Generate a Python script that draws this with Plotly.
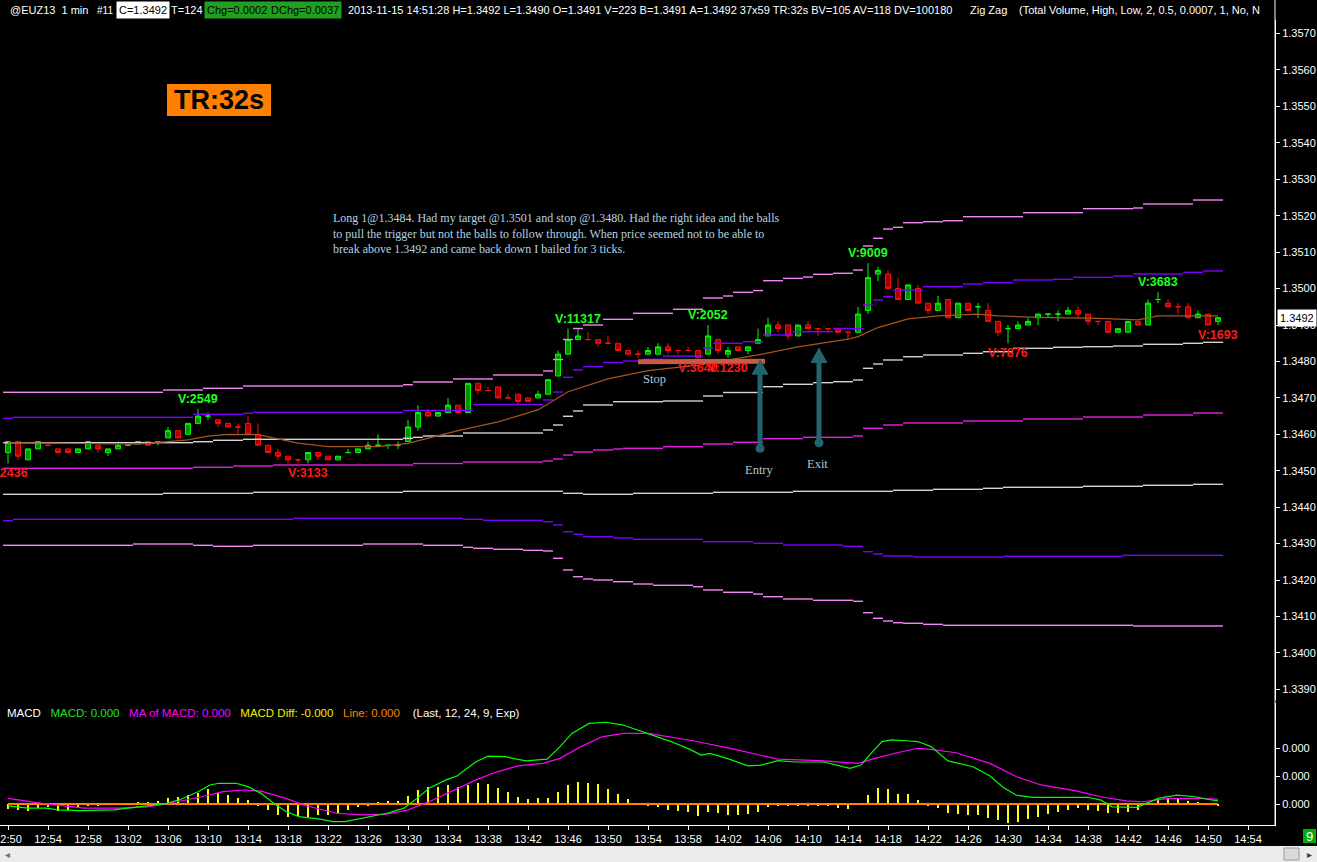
import plotly.graph_objects as go

W, H = 1317, 862
PW = 1275  # right price axis sits at 1275 px

def px(x):
    return x / PW

def py(y):
    return (H - y) / H

SANS = "Liberation Sans, Arial, sans-serif"
SERIF = "Liberation Serif, Times New Roman, serif"

# ---------------- data ----------------
# bar index = minutes after 12:50 (one-minute bars 12:50 .. 14:51)
tick_labels = ["12:50", "12:54", "12:58", "13:02", "13:06", "13:10", "13:14", "13:18",
               "13:22", "13:26", "13:30", "13:34", "13:38", "13:42", "13:46", "13:50",
               "13:54", "13:58", "14:02", "14:06", "14:10", "14:14", "14:18", "14:22",
               "14:26", "14:30", "14:34", "14:38", "14:42", "14:46", "14:50", "14:54"]
tick_minutes = [0, 4, 8, 12, 16, 20, 24, 28, 32, 36, 40, 44, 48, 52, 56, 60,
                64, 68, 72, 76, 80, 84, 88, 92, 96, 100, 104, 108, 112, 116, 120, 124]

price_ticks = [1.3390, 1.3400, 1.3410, 1.3420, 1.3430, 1.3440, 1.3450, 1.3460, 1.3470,
               1.3480, 1.3490, 1.3500, 1.3510, 1.3520, 1.3530, 1.3540, 1.3550, 1.3560, 1.3570]

opens = [1.3455, 1.3458, 1.3453, 1.3456, 1.3457, 1.3456, 1.3456, 1.3455, 1.3456, 1.3457,
         1.3455, 1.3456, 1.3457, 1.3458, 1.3458, 1.3458, 1.3459, 1.3461, 1.3460, 1.3463,
         1.3465, 1.3464, 1.3463, 1.3462, 1.3463, 1.3460, 1.3457, 1.3455, 1.3454, 1.3453,
         1.3453, 1.3455, 1.3454, 1.3453, 1.3455, 1.3455, 1.3456, 1.3457, 1.3457, 1.3457,
         1.3458, 1.3462, 1.3466, 1.3465, 1.3466, 1.3468, 1.3466, 1.3474, 1.3472, 1.3473,
         1.3470, 1.3471, 1.3470, 1.3470, 1.3471, 1.3476, 1.3482, 1.3486, 1.3486, 1.3486,
         1.3485, 1.3485, 1.3483, 1.3482, 1.3482, 1.3482, 1.3484, 1.3483, 1.3483, 1.3483,
         1.3482, 1.3486, 1.3482, 1.3484, 1.3483, 1.3485, 1.3487, 1.3490, 1.3490, 1.3487,
         1.3490, 1.3489, 1.3489, 1.3489, 1.3488, 1.3488, 1.3494, 1.3504, 1.3504, 1.3500,
         1.3497, 1.3500, 1.3496, 1.3494, 1.3497, 1.3492, 1.3496, 1.3495, 1.3494, 1.3491,
         1.3489, 1.3489, 1.3490, 1.3492, 1.3493, 1.3493, 1.3493, 1.3494, 1.3493, 1.3491,
         1.3491, 1.3488, 1.3488, 1.3491, 1.3490, 1.3497, 1.3496, 1.3495, 1.3495, 1.3492,
         1.3493, 1.3491]
highs = [1.3458, 1.3458, 1.3456, 1.3458, 1.3457, 1.3456, 1.3456, 1.3456, 1.3458, 1.3457,
         1.3456, 1.3458, 1.3457, 1.3458, 1.3458, 1.3458, 1.3462, 1.3461, 1.3463, 1.3467,
         1.3466, 1.3464, 1.3463, 1.3463, 1.3465, 1.3463, 1.3457, 1.3456, 1.3454, 1.3453,
         1.3455, 1.3455, 1.3454, 1.3454, 1.3456, 1.3456, 1.3458, 1.3460, 1.3457, 1.3458,
         1.3464, 1.3468, 1.3467, 1.3466, 1.3470, 1.3468, 1.3474, 1.3474, 1.3473, 1.3473,
         1.3471, 1.3471, 1.3470, 1.3472, 1.3475, 1.3483, 1.3489, 1.3489, 1.3488, 1.3486,
         1.3487, 1.3485, 1.3483, 1.3483, 1.3484, 1.3485, 1.3485, 1.3483, 1.3484, 1.3483,
         1.3490, 1.3486, 1.3484, 1.3484, 1.3484, 1.3489, 1.3492, 1.3491, 1.3490, 1.3490,
         1.3491, 1.3489, 1.3489, 1.3489, 1.3488, 1.3495, 1.3507, 1.3506, 1.3505, 1.3503,
         1.3501, 1.3501, 1.3496, 1.3498, 1.3497, 1.3496, 1.3496, 1.3496, 1.3496, 1.3491,
         1.3490, 1.3491, 1.3492, 1.3493, 1.3493, 1.3494, 1.3495, 1.3495, 1.3493, 1.3491,
         1.3491, 1.3489, 1.3491, 1.3491, 1.3497, 1.3499, 1.3497, 1.3496, 1.3496, 1.3494,
         1.3493, 1.3492]
lows = [1.3452, 1.3453, 1.3453, 1.3456, 1.3457, 1.3455, 1.3455, 1.3455, 1.3456, 1.3455,
        1.3454, 1.3456, 1.3457, 1.3458, 1.3457, 1.3457, 1.3459, 1.3459, 1.3460, 1.3463,
        1.3464, 1.3462, 1.3462, 1.3460, 1.3460, 1.3457, 1.3455, 1.3453, 1.3452, 1.3452,
        1.3452, 1.3453, 1.3453, 1.3453, 1.3455, 1.3455, 1.3456, 1.3457, 1.3456, 1.3456,
        1.3458, 1.3461, 1.3465, 1.3465, 1.3466, 1.3466, 1.3466, 1.3471, 1.3472, 1.3470,
        1.3470, 1.3468, 1.3469, 1.3470, 1.3471, 1.3476, 1.3482, 1.3486, 1.3486, 1.3484,
        1.3485, 1.3483, 1.3482, 1.3481, 1.3482, 1.3482, 1.3482, 1.3482, 1.3483, 1.3481,
        1.3482, 1.3482, 1.3481, 1.3483, 1.3482, 1.3485, 1.3487, 1.3488, 1.3486, 1.3487,
        1.3489, 1.3487, 1.3488, 1.3488, 1.3486, 1.3488, 1.3493, 1.3502, 1.3500, 1.3497,
        1.3497, 1.3496, 1.3493, 1.3494, 1.3492, 1.3492, 1.3494, 1.3492, 1.3491, 1.3487,
        1.3485, 1.3489, 1.3490, 1.3490, 1.3492, 1.3491, 1.3493, 1.3492, 1.3490, 1.3490,
        1.3488, 1.3488, 1.3488, 1.3490, 1.3490, 1.3496, 1.3495, 1.3493, 1.3492, 1.3492,
        1.3490, 1.3490]
closes = [1.3458, 1.3454, 1.3456, 1.3458, 1.3457, 1.3455, 1.3455, 1.3456, 1.3458, 1.3456,
          1.3456, 1.3457, 1.3457, 1.3458, 1.3457, 1.3458, 1.3461, 1.3459, 1.3463, 1.3465,
          1.3465, 1.3463, 1.3462, 1.3462, 1.3460, 1.3457, 1.3455, 1.3454, 1.3453, 1.3453,
          1.3455, 1.3454, 1.3453, 1.3454, 1.3455, 1.3456, 1.3457, 1.3457, 1.3457, 1.3457,
          1.3462, 1.3466, 1.3465, 1.3466, 1.3468, 1.3466, 1.3474, 1.3472, 1.3472, 1.3470,
          1.3470, 1.3469, 1.3469, 1.3471, 1.3475, 1.3482, 1.3486, 1.3487, 1.3486, 1.3485,
          1.3485, 1.3483, 1.3482, 1.3482, 1.3483, 1.3484, 1.3483, 1.3483, 1.3483, 1.3481,
          1.3487, 1.3483, 1.3483, 1.3483, 1.3484, 1.3486, 1.3490, 1.3489, 1.3487, 1.3490,
          1.3489, 1.3489, 1.3489, 1.3488, 1.3488, 1.3493, 1.3503, 1.3505, 1.3500, 1.3497,
          1.3501, 1.3496, 1.3494, 1.3496, 1.3492, 1.3496, 1.3494, 1.3495, 1.3491, 1.3488,
          1.3489, 1.3490, 1.3491, 1.3493, 1.3493, 1.3493, 1.3494, 1.3493, 1.3491, 1.3491,
          1.3488, 1.3489, 1.3491, 1.3490, 1.3496, 1.3497, 1.3495, 1.3495, 1.3492, 1.3493,
          1.3490, 1.3492]
# unchanged (open == close) bars that the chart paints green
doji_green = [12, 13, 15, 20, 34, 37, 38, 39, 97, 100, 104, 105, 115]

# stepped deviation bands: (first bar of step, value)
band_u3 = [(0, 1.347153), (16, 1.347216), (20, 1.347263), (24, 1.347326), (40, 1.347362),
           (41, 1.347436), (45, 1.347519), (49, 1.347628), (54, 1.347738), (55, 1.348053),
           (56, 1.348602), (57, 1.348904), (58, 1.349000), (60, 1.349156), (63, 1.349321),
           (67, 1.349431), (70, 1.349741), (72, 1.349796), (73, 1.349897), (75, 1.349944),
           (76, 1.350216), (78, 1.350279), (80, 1.350317), (81, 1.350391), (83, 1.350419),
           (85, 1.350509), (86, 1.351168), (87, 1.351379), (88, 1.351634), (89, 1.351681),
           (90, 1.351807), (92, 1.351835), (94, 1.351862), (96, 1.351972), (102, 1.352082),
           (108, 1.352192), (113, 1.352211), (114, 1.352321), (119, 1.352430)]
band_u2 = [(0, 1.346440), (1, 1.346467), (19, 1.346549), (24, 1.346577), (25, 1.346604),
           (40, 1.346654), (47, 1.346819), (54, 1.346942), (55, 1.347161), (56, 1.347565),
           (57, 1.347765), (58, 1.347856), (60, 1.347971), (62, 1.348012), (64, 1.348059),
           (66, 1.348149), (70, 1.348369), (71, 1.348498), (74, 1.348542), (76, 1.348726),
           (79, 1.348816), (83, 1.348904), (86, 1.349549), (87, 1.349686), (88, 1.349777),
           (89, 1.349960), (92, 1.350051), (96, 1.350125), (98, 1.350161), (101, 1.350235),
           (105, 1.350254), (107, 1.350309), (111, 1.350345), (113, 1.350400), (118, 1.350446),
           (120, 1.350482)]
band_u1 = [(0, 1.345770), (19, 1.345797), (21, 1.345836), (24, 1.345863), (40, 1.345891),
           (41, 1.345918), (42, 1.345954), (46, 1.346036), (54, 1.346119), (55, 1.346256),
           (56, 1.346495), (57, 1.346640), (58, 1.346805), (61, 1.346895), (66, 1.346914),
           (70, 1.347052), (72, 1.347148), (76, 1.347307), (78, 1.347373), (81, 1.347417),
           (83, 1.347444), (85, 1.347491), (86, 1.347812), (87, 1.347930), (88, 1.348040),
           (90, 1.348130), (92, 1.348177), (96, 1.348223), (98, 1.348267), (101, 1.348360),
           (105, 1.348388), (108, 1.348405), (111, 1.348424), (114, 1.348470), (118, 1.348498),
           (120, 1.348525)]
band_c = [(0, 1.345067), (19, 1.345095), (23, 1.345131), (27, 1.345158), (41, 1.345199),
          (46, 1.345240), (54, 1.345268), (55, 1.345323), (56, 1.345432), (57, 1.345515),
          (59, 1.345570), (61, 1.345597), (62, 1.345616), (66, 1.345660), (70, 1.345734),
          (73, 1.345781), (76, 1.345880), (80, 1.345918), (85, 1.345954), (86, 1.346165),
          (88, 1.346256), (90, 1.346311), (96, 1.346366), (102, 1.346420), (108, 1.346475),
          (114, 1.346530), (119, 1.346585)]
band_l1 = [(0, 1.344354), (16, 1.344381), (25, 1.344409), (40, 1.344436), (56, 1.344381),
           (58, 1.344354), (63, 1.344381), (71, 1.344409), (79, 1.344436), (89, 1.344464),
           (93, 1.344491), (98, 1.344519), (100, 1.344546), (108, 1.344574), (114, 1.344601),
           (119, 1.344628)]
band_l2 = [(0, 1.343630), (1, 1.343668), (29, 1.343695), (46, 1.343668), (48, 1.343640),
           (54, 1.343602), (55, 1.343512), (56, 1.343328), (57, 1.343257), (58, 1.343190),
           (61, 1.343155), (63, 1.343119), (70, 1.343053), (75, 1.343009), (78, 1.342963),
           (84, 1.342927), (86, 1.342779), (87, 1.342716), (88, 1.342661), (91, 1.342633),
           (100, 1.342653), (112, 1.342680)]
band_l3 = [(0, 1.342954), (13, 1.342990), (19, 1.342954), (21, 1.342927), (25, 1.342954),
           (36, 1.342990), (42, 1.342954), (46, 1.342899), (47, 1.342872), (49, 1.342845),
           (52, 1.342817), (54, 1.342798), (55, 1.342598), (56, 1.342277), (57, 1.342093),
           (58, 1.342030), (59, 1.342002), (61, 1.341955), (63, 1.341892), (65, 1.341857),
           (69, 1.341818), (70, 1.341728), (72, 1.341665), (75, 1.341618), (76, 1.341544),
           (78, 1.341481), (81, 1.341445), (85, 1.341418), (86, 1.341105), (87, 1.340951),
           (88, 1.340877), (89, 1.340830), (90, 1.340814), (92, 1.340786), (94, 1.340759),
           (113, 1.340740)]

# moving average (brown) sampled along the chart
ma_bar = [0, 13, 16, 18, 20, 22, 25, 27, 29, 32, 37, 40, 42, 45, 49, 53, 56, 60, 64, 69,
          75, 79, 84, 85, 87, 90, 93, 97, 99, 103, 109, 113, 115, 121]
ma_val = [1.34577, 1.34573, 1.34580, 1.34585, 1.34595, 1.34600, 1.34599, 1.34588, 1.34576,
          1.34566, 1.34566, 1.34575, 1.34589, 1.34610, 1.34634, 1.34667, 1.34717, 1.34752,
          1.34775, 1.34790, 1.34818, 1.34840, 1.34861, 1.34868, 1.34893, 1.34917, 1.34925,
          1.34930, 1.34925, 1.34921, 1.34918, 1.34914, 1.34925, 1.34925]

# zig zag swing labels
piv_bar = [0, 19, 30, 57, 69, 70, 72, 86, 100, 115, 121]
piv_kind = ["L", "H", "L", "H", "L", "H", "L", "H", "L", "H", "L"]
piv_vol = [2436, 2549, 3133, 11317, 3640, 2052, 1230, 9009, 7876, 3683, 1693]

# MACD panel (values in units of 0.0001)
macd_bar = [0, 2, 3.8, 5, 7.2, 10.6, 13, 15.6, 17.3, 19, 20.2, 21.1, 22.8, 24, 25.3, 26.6,
            27.8, 29.1, 31.2, 32.5, 33.7, 35.4, 37.9, 39.6, 40.9, 42.1, 43.8, 44.9, 45.9,
            46.8, 48, 49.7, 51.8, 53.9, 55.2, 56.4, 58.1, 59.8, 61.5, 64, 66.3, 68.2, 69.3,
            70.2, 71.9, 74, 75.3, 77, 78.7, 81.6, 82.9, 84.2, 85.3, 86.3, 87.4, 88.4, 90.1,
            91, 92.3, 94, 96.5, 98.2, 99.5, 100.8, 102.5, 106.7, 108, 109.3, 110.4, 112.9,
            113.8, 115, 116.9, 118.7, 119.9, 121]
macd_val = [-0.07, -0.15, -0.15, -0.21, -0.24, -0.21, -0.10, 0.0, 0.17, 0.44, 0.68, 0.74,
            0.74, 0.62, 0.38, 0.02, -0.27, -0.45, -0.54, -0.63, -0.63, -0.51, -0.33, -0.15,
            0.20, 0.56, 0.86, 1.0, 1.27, 1.51, 1.71, 1.69, 1.54, 1.60, 2.05, 2.52, 2.88,
            2.92, 2.82, 2.52, 2.23, 1.95, 1.75, 1.81, 1.63, 1.36, 1.39, 1.55, 1.5, 1.5, 1.39,
            1.27, 1.39, 1.81, 2.23, 2.29, 2.25, 2.23, 2.05, 1.54, 1.33, 1.0, 0.6, 0.32, 0.24,
            0.26, 0.24, 0.14, -0.1, -0.12, 0.02, 0.2, 0.32, 0.26, 0.17, 0.11]
sig_bar = [0, 3.4, 7.6, 11, 13.9, 16.9, 19.4, 21.5, 23.6, 25.3, 27.8, 29.9, 32.9, 35.4,
           37.9, 40, 42.1, 44.7, 46.8, 48.9, 51, 53.5, 55.2, 57.3, 59.4, 61.5, 64, 68.5,
           72.7, 77, 81.2, 85, 86.7, 88.9, 91, 92.3, 94.8, 98.2, 100.8, 103.3, 106.7, 109.3,
           111.8, 113.5, 116.1, 119.5, 121]
sig_val = [0.2, 0.02, -0.15, -0.15, -0.1, 0.08, 0.26, 0.44, 0.5, 0.46, 0.2, -0.07, -0.33,
           -0.39, -0.36, -0.21, 0.08, 0.5, 0.86, 1.15, 1.36, 1.45, 1.63, 2.05, 2.4, 2.52,
           2.52, 2.26, 1.95, 1.6, 1.55, 1.45, 1.63, 1.83, 1.99, 1.95, 1.83, 1.45, 0.98, 0.68,
           0.48, 0.26, 0.11, 0.08, 0.2, 0.2, 0.17]
macd_diff = [-0.18, -0.2, -0.26, -0.14, -0.1, -0.24, -0.2, -0.14, -0.06, -0.04,
             -0.02, 0, 0.02, 0.08, 0.05, 0.11, 0.2, 0.24, 0.32, 0.4,
             0.52, 0.4, 0.32, 0.2, 0.13, -0.08, -0.2, -0.39, -0.48, -0.43,
             -0.45, -0.39, -0.39, -0.31, -0.2, -0.1, -0.06, 0.05, 0.12, 0.12,
             0.29, 0.5, 0.6, 0.62, 0.68, 0.6, 0.68, 0.76, 0.71, 0.56,
             0.44, 0.26, 0.17, 0.2, 0.23, 0.44, 0.68, 0.8, 0.76, 0.71,
             0.52, 0.36, 0.18, 0, -0.08, -0.1, -0.2, -0.26, -0.3, -0.43,
             -0.3, -0.33, -0.39, -0.39, -0.37, -0.3, -0.1, -0.06, -0.08, -0.04,
             -0.06, -0.04, -0.06, -0.14, -0.18, -0.02, 0.32, 0.57, 0.54, 0.36,
             0.35, 0.14, -0.06, -0.15, -0.33, -0.36, -0.39, -0.39, -0.51, -0.57,
             -0.69, -0.63, -0.55, -0.45, -0.37, -0.27, -0.21, -0.15, -0.21, -0.24,
             -0.31, -0.33, -0.27, -0.21, 0.08, 0.17, 0.18, 0.18, 0.12, 0.08,
             -0.02, -0.06]
macd_line_level = 0.0
MACD_UNIT = 1e-4

# trade annotations
stop_price = 1.3480
stop_from_bar, stop_to_bar = 63.0, 75.7
entry_bar, entry_base, entry_tip = 75.2, 1.345616, 1.348040
exit_bar, exit_base, exit_tip = 81.1, 1.345770, 1.348361
last_price = 1.3492

# ---------------- figure ----------------
n = len(opens)
bars = list(range(n))
fig = go.Figure()


def expand(steps):
    out, j = [], 0
    for k in range(n):
        while j + 1 < len(steps) and steps[j + 1][0] <= k:
            j += 1
        out.append(steps[j][1])
    return out


def step_segments(steps):
    vals = expand(steps)
    xs, ys = [], []
    for k, v in zip(bars, vals):
        xs += [k - 0.5, k + 0.5, None]
        ys += [v, v, None]
    return xs, ys


PINK = "#f585f5"
PURPLE = "#7f00ff"
WHITE_BAND = "#d4d4d4"
MAGENTA = "#e61ee6"
for steps, col in [(band_u3, PINK), (band_u2, PURPLE), (band_u1, WHITE_BAND),
                   (band_c, MAGENTA), (band_l1, WHITE_BAND), (band_l2, PURPLE),
                   (band_l3, PINK)]:
    xs, ys = step_segments(steps)
    fig.add_trace(go.Scatter(x=xs, y=ys, mode="lines", line=dict(color=col, width=1.4),
                             hoverinfo="skip", connectgaps=False))

fig.add_trace(go.Scatter(x=ma_bar, y=ma_val, mode="lines",
                         line=dict(color="#a5561e", width=1.2), hoverinfo="skip"))

up_idx = [k for k in bars if closes[k] > opens[k] or (closes[k] == opens[k] and k in doji_green)]
dn_idx = [k for k in bars if k not in up_idx]

for idx, line_c, fill_c in [(up_idx, "#00ff00", "#009000"), (dn_idx, "#ff1010", "#a80000")]:
    fig.add_trace(go.Candlestick(
        x=idx,
        open=[opens[k] for k in idx], high=[highs[k] for k in idx],
        low=[lows[k] for k in idx], close=[closes[k] for k in idx],
        increasing=dict(line=dict(color=line_c, width=1), fillcolor=fill_c),
        decreasing=dict(line=dict(color=line_c, width=1), fillcolor=fill_c),
        whiskerwidth=0, hoverinfo="skip", xaxis="x", yaxis="y"))

# entry / exit arrow base dots
fig.add_trace(go.Scatter(x=[entry_bar, exit_bar], y=[entry_base, exit_base], mode="markers",
                         marker=dict(color="#23646f", size=9), hoverinfo="skip"))

# MACD panel
fig.add_trace(go.Bar(x=bars, y=[v * MACD_UNIT for v in macd_diff], width=0.12,
                     marker=dict(color="#ffff00", line=dict(width=0)), yaxis="y2",
                     hoverinfo="skip"))
fig.add_trace(go.Scatter(x=[bars[0], bars[-1]], y=[macd_line_level, macd_line_level],
                         mode="lines", line=dict(color="#ff8000", width=2), yaxis="y2",
                         hoverinfo="skip"))
fig.add_trace(go.Scatter(x=sig_bar, y=[v * MACD_UNIT for v in sig_val], mode="lines",
                         line=dict(color="#ff00ff", width=1.2), yaxis="y2", hoverinfo="skip"))
fig.add_trace(go.Scatter(x=macd_bar, y=[v * MACD_UNIT for v in macd_val], mode="lines",
                         line=dict(color="#00ff00", width=1.2), yaxis="y2", hoverinfo="skip"))

annotations = []
shapes = []

# zig-zag volume labels
for k, kind, vol in zip(piv_bar, piv_kind, piv_vol):
    if kind == "H":
        annotations.append(dict(x=k, y=highs[k], xref="x", yref="y", text=f"<b>V:{vol}</b>",
                                showarrow=False, xanchor="center", yanchor="bottom", yshift=1,
                                font=dict(family=SANS, size=12.5, color="#22ff22")))
    else:
        annotations.append(dict(x=k, y=lows[k], xref="x", yref="y", text=f"<b>V:{vol}</b>",
                                showarrow=False, xanchor="center", yanchor="top", yshift=-1,
                                font=dict(family=SANS, size=12.5, color="#ff1a1a")))

# stop line
shapes.append(dict(type="line", xref="x", yref="y", x0=stop_from_bar, x1=stop_to_bar,
                   y0=stop_price - 0.000007, y1=stop_price + 0.000006,
                   line=dict(color="#c95a46", width=5)))

# arrows
HEAD_LEN = 0.00039
HEAD_HALF = 0.78
TEAL = "#23646f"
for xb, yb, yt in [(entry_bar, entry_base, entry_tip), (exit_bar, exit_base, exit_tip)]:
    shapes.append(dict(type="line", xref="x", yref="y", x0=xb, x1=xb, y0=yb, y1=yt - HEAD_LEN,
                       line=dict(color=TEAL, width=5)))
    shapes.append(dict(type="path", xref="x", yref="y",
                       path=f"M {xb - HEAD_HALF},{yt - HEAD_LEN} L {xb + HEAD_HALF},{yt - HEAD_LEN} L {xb},{yt} Z",
                       fillcolor=TEAL, line=dict(color=TEAL, width=1)))

for txt, xb, yv in [("Stop", 64.6, 1.347518), ("Entry", 75.1, 1.345021), ("Exit", 80.9, 1.345185)]:
    annotations.append(dict(x=xb, y=yv, xref="x", yref="y", text=txt, showarrow=False,
                            xanchor="center", yanchor="middle",
                            font=dict(family=SERIF, size=12.5, color="#a9c8d2")))

# comment text
annotations.append(dict(
    x=px(331), y=py(209), xref="paper", yref="paper", xanchor="left", yanchor="top",
    align="left", showarrow=False,
    text=("Long 1@1.3484. Had my target @1.3501 and stop @1.3480. Had the right idea and the balls<br>"
          "to pull the trigger but not the balls to follow through. When price seemed not to be able to<br>"
          "break above 1.3492 and came back down I bailed for 3 ticks."),
    font=dict(family=SERIF, size=12, color="#b3d3e3")))

# TR box
shapes.append(dict(type="rect", xref="paper", yref="paper", x0=px(167), x1=px(271),
                   y0=py(116), y1=py(84), fillcolor="#ff8000", line=dict(width=0)))
annotations.append(dict(x=px(219), y=py(100), xref="paper", yref="paper", text="<b>TR:32s</b>",
                        xanchor="center", yanchor="middle",
                        showarrow=False, font=dict(family=SANS, size=27, color="black")))

# header line
GREEN_BOX = "#1fa01f"
header = [
    (7, "@EUZ13\u00a0\u00a01 min", "white", None, 11),
    (94, "#11", "white", None, 10),
    (116, "C=1.3492", "black", "white", 11),
    (168, "T=124", "white", None, 11),
    (204, "Chg=0.0002", "black", GREEN_BOX, 11),
    (268, "DChg=0.0037", "black", GREEN_BOX, 11),
    (345, "2013-11-15 14:51:28 H=1.3492 L=1.3490 O=1.3491 V=223 B=1.3491 A=1.3492 37x59 "
          "TR:32s BV=105 AV=118 DV=100180", "white", None, 11),
    (967, "Zig Zag", "white", None, 11),
    (1016, "(Total Volume, High, Low, 2, 0.5, 0.0007, 1, No, N", "white", None, 11),
]
for xpix, txt, col, bg, fs in header:
    a = dict(x=px(xpix), y=py(10), xref="paper", yref="paper", xanchor="left",
             yanchor="middle", text=txt, showarrow=False, borderpad=2,
             font=dict(family=SANS, size=fs, color=col))
    if bg:
        a["bgcolor"] = bg
    annotations.append(a)

# MACD legend
nb = "\u00a0\u00a0 "
annotations.append(dict(
    x=px(5), y=py(713), xref="paper", yref="paper", xanchor="left", yanchor="middle",
    showarrow=False, font=dict(family=SANS, size=11.5, color="white"),
    text=("MACD" + nb + "<span style='color:#1ee61e'>MACD: 0.000</span>" + nb +
          "<span style='color:#ff00ff'>MA of MACD: 0.000</span>" + nb +
          "<span style='color:#f0f000'>MACD Diff: -0.000</span>" + nb +
          "<span style='color:#ff8000'>Line: 0.000</span>" + nb + "\u00a0(Last, 12, 24, 9, Exp)")))

# last price marker
annotations.append(dict(x=1, y=last_price, xref="paper", yref="y", xanchor="left",
                        yanchor="middle", xshift=2, text="1.3492", showarrow=False,
                        bgcolor="white", borderpad=2,
                        font=dict(family=SANS, size=11, color="black")))

# full-height right axis line
shapes.append(dict(type="line", xref="paper", yref="paper", x0=1, x1=1, y0=py(825), y1=1,
                   line=dict(color="white", width=1)))

# bottom scroll bar
shapes.append(dict(type="rect", xref="paper", yref="paper", x0=0, x1=px(W), y0=0, y1=py(846),
                   fillcolor="#ececec", line=dict(width=0)))
shapes.append(dict(type="rect", xref="paper", yref="paper", x0=px(1284), x1=px(1299),
                   y0=py(860), y1=py(848), fillcolor="#dadada",
                   line=dict(color="#9a9a9a", width=1)))
annotations.append(dict(x=px(7), y=py(854), xref="paper", yref="paper", text="\u25c2",
                        xanchor="center", yanchor="middle",
                        showarrow=False, font=dict(family=SANS, size=10, color="#707070")))
annotations.append(dict(x=px(1310), y=py(854), xref="paper", yref="paper", text="\u25b8",
                        xanchor="center", yanchor="middle",
                        showarrow=False, font=dict(family=SANS, size=10, color="#404040")))

# green "9" box
shapes.append(dict(type="rect", xref="paper", yref="paper", x0=px(1303), x1=px(1316),
                   y0=py(843), y1=py(829), fillcolor="#00b000", line=dict(width=0)))
annotations.append(dict(x=px(1309.5), y=py(836), xref="paper", yref="paper", text="9",
                        xanchor="center", yanchor="middle",
                        showarrow=False, font=dict(family=SANS, size=13, color="white")))

axis_font = dict(family=SANS, size=11, color="white")
fig.update_layout(
    width=W, height=H,
    margin=dict(l=0, r=W - PW, t=0, b=0, pad=0, autoexpand=False),
    paper_bgcolor="black", plot_bgcolor="black",
    showlegend=False, hovermode=False, bargap=0,
    xaxis=dict(domain=[0, 1], range=[-0.8, 126.7], anchor="y2", showline=True,
               linecolor="white", linewidth=1, ticks="outside", ticklen=4, tickcolor="white",
               tickvals=tick_minutes, ticktext=tick_labels, tickfont=axis_font,
               ticklabeloverflow="allow",
               showgrid=False, zeroline=False, rangeslider=dict(visible=False),
               fixedrange=True, automargin=False),
    yaxis=dict(domain=[py(700), py(20)], range=[1.338709, 1.357370], side="right",
               anchor="x", showline=True, linecolor="white", linewidth=1, ticks="outside",
               ticklen=4, tickcolor="white", tickvals=price_ticks, tickformat=".4f",
               tickfont=axis_font, showgrid=False, zeroline=False, fixedrange=True,
               automargin=False),
    yaxis2=dict(domain=[py(825), py(703)], range=[-0.75e-4, 3.607e-4], side="right",
                anchor="x", showline=True, linecolor="white", linewidth=1, ticks="outside",
                ticklen=4, tickcolor="white", tickvals=[0, 1e-4, 2e-4],
                ticktext=["0.000", "0.000", "0.000"], tickfont=axis_font,
                showgrid=False, zeroline=False, fixedrange=True, automargin=False),
    annotations=annotations,
    shapes=shapes,
)

fig.write_html("out.html", config={"displayModeBar": False},
               post_script="document.body.style.margin='0px';document.body.style.background='black';")
